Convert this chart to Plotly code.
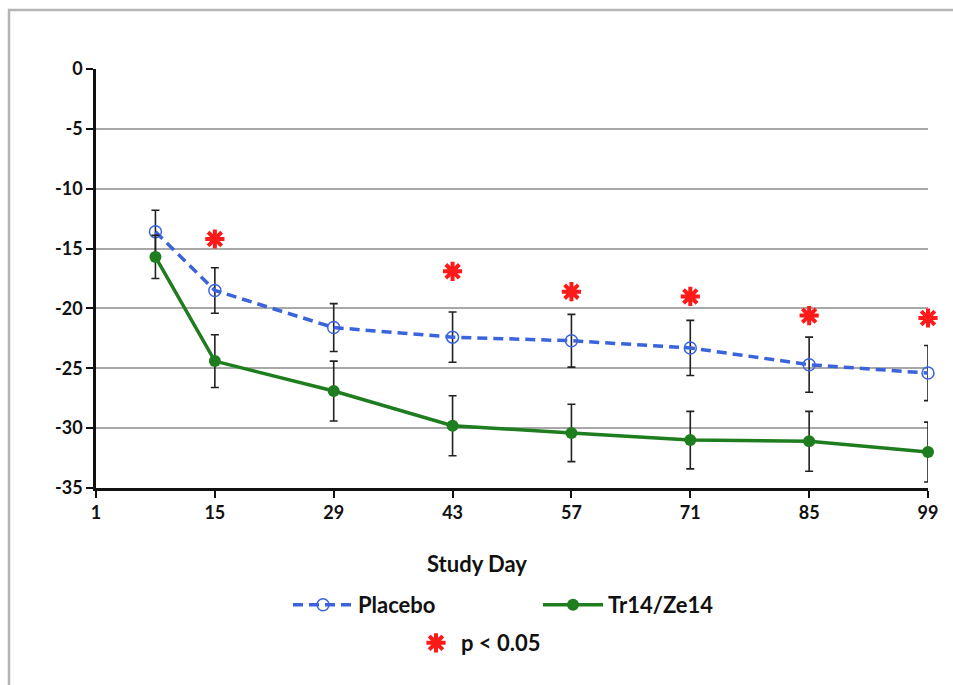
import plotly.graph_objects as go

days = [8, 15, 29, 43, 57, 71, 85, 99]
placebo = [-13.6, -18.5, -21.6, -22.4, -22.7, -23.3, -24.7, -25.4]
placebo_err = [1.8, 1.9, 2.0, 2.1, 2.2, 2.3, 2.3, 2.3]
treat = [-15.7, -24.4, -26.9, -29.8, -30.4, -31.0, -31.1, -32.0]
treat_err = [1.8, 2.2, 2.5, 2.5, 2.4, 2.4, 2.5, 2.5]
sig_days = [15, 43, 57, 71, 85, 99]
sig_y = [-14.2, -16.9, -18.6, -19.0, -20.6, -20.8]
x_ticks = [1, 15, 29, 43, 57, 71, 85, 99]
y_ticks = [0, -5, -10, -15, -20, -25, -30, -35]
y_labels = ["0", "-5", "-10", "-15", "-20", "-25", "-30", "-35"]

W, H = 953, 685
L, R, T, B = 96, 25, 69, 197
pw, ph = W - L - R, H - T - B

def px_x(p):
    return (p - L) / pw

def px_y(p):
    return (H - B - p) / ph

FONT = "Lato"
fig = go.Figure()

fig.add_trace(go.Scatter(
    x=days, y=placebo, name="Placebo", mode="lines+markers",
    line=dict(color="#3b64dc", width=3.5, dash="10px,6px"),
    marker=dict(symbol="circle-open", size=12, color="#3b64dc", line=dict(width=1.5)),
    error_y=dict(type="data", array=placebo_err, color="#222222", thickness=1.6, width=4),
    cliponaxis=False, legend="legend",
))
fig.add_trace(go.Scatter(
    x=days, y=treat, name="Tr14/Ze14", mode="lines+markers",
    line=dict(color="#1e7d1e", width=3.5),
    marker=dict(symbol="circle", size=12, color="#1e7d1e"),
    error_y=dict(type="data", array=treat_err, color="#222222", thickness=1.6, width=4),
    cliponaxis=False, legend="legend",
))
fig.add_trace(go.Scatter(
    x=sig_days, y=sig_y, name="p < 0.05", mode="markers",
    marker=dict(symbol="asterisk-open", size=16, color="#ff1a1a",
                line=dict(color="#ff1a1a", width=4)),
    cliponaxis=False, legend="legend2",
))

fig.update_layout(
    width=W, height=H,
    margin=dict(l=L, r=R, t=T, b=B),
    paper_bgcolor="white", plot_bgcolor="white",
    font=dict(family=FONT, size=18, color="#111111", weight="bold"),
    xaxis=dict(
        range=[1, 99], tickvals=x_ticks, ticktext=[str(v) for v in x_ticks],
        showgrid=False, zeroline=False, showline=True, linecolor="#111111", linewidth=2.5,
        ticks="outside", ticklen=7, tickwidth=2, tickcolor="#111111", automargin=False,
        tickfont=dict(family=FONT, size=18, weight="bold"),
    ),
    yaxis=dict(
        range=[-35, 0], tickvals=y_ticks, ticktext=y_labels,
        showgrid=True, gridcolor="#a8a8a8", gridwidth=1.8, zeroline=False,
        showline=True, linecolor="#111111", linewidth=2.5, automargin=False,
        ticks="outside", ticklen=7, tickwidth=2, tickcolor="#111111",
        tickfont=dict(family=FONT, size=18, weight="bold"),
    ),
    legend=dict(
        orientation="h", x=px_x(288), xanchor="left", y=px_y(605), yanchor="middle",
        font=dict(family=FONT, size=22, weight="bold"), itemwidth=60,
        entrywidth=175, entrywidthmode="pixels", bgcolor="rgba(0,0,0,0)",
        tracegroupgap=0,
    ),
    legend2=dict(
        orientation="h", x=px_x(411), xanchor="left", y=px_y(643), yanchor="middle",
        font=dict(family=FONT, size=22, weight="bold"), itemwidth=40,
        bgcolor="rgba(0,0,0,0)",
    ),
    annotations=[dict(
        text="Study Day", xref="paper", yref="paper", x=px_x(477), y=px_y(563),
        showarrow=False, font=dict(family=FONT, size=22, weight="bold"),
        xanchor="center", yanchor="middle",
    )],
    shapes=[dict(
        type="rect", xref="paper", yref="paper",
        x0=px_x(9), x1=px_x(1000), y0=px_y(760), y1=px_y(10),
        line=dict(color="#b5b5b5", width=2.5), layer="below",
    )],
)

fig.write_html("out.html", config={"displayModeBar": False},
               post_script="document.body.style.margin='0';")
